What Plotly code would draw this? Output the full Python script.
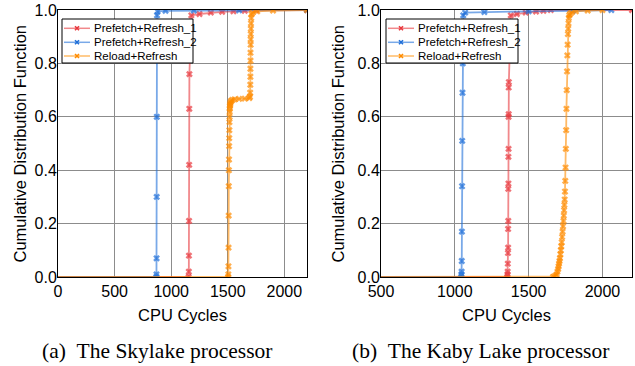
import plotly.graph_objects as go

# ---------------- data ----------------
# (a) Skylake
sky_pr1_x = [0, 1154, 1156, 1157, 1158, 1159, 1160, 1161, 1178, 1250, 1350, 1450, 1550, 1650, 1750, 2200]
sky_pr1_y = [0, 0, 0.02, 0.08, 0.21, 0.42, 0.63, 0.76, 0.98, 0.985, 0.99, 0.993, 0.995, 0.997, 0.999, 1.0]

sky_pr2_x = [0, 869, 870, 871, 872, 873, 875, 880, 950, 1200, 1600, 2200]
sky_pr2_y = [0, 0, 0.01, 0.07, 0.30, 0.60, 0.98, 0.995, 0.997, 0.998, 0.999, 1.0]

sky_rr_x = [0, 1503, 1505, 1506, 1507, 1508, 1509, 1510, 1511, 1512, 1513, 1514, 1515, 1516, 1517, 1518,
            1519, 1520, 1522, 1525, 1530, 1540, 1560, 1600, 1650, 1690, 1696, 1698, 1699, 1700, 1700, 1701,
            1701, 1702, 1702, 1703, 1704, 1705, 1707, 1710, 1720, 1760, 1900, 2200]
sky_rr_y = [0, 0, 0.01, 0.04, 0.11, 0.23, 0.34, 0.40, 0.44, 0.49, 0.52, 0.55, 0.58, 0.60, 0.62, 0.63,
            0.64, 0.645, 0.65, 0.655, 0.66, 0.663, 0.665, 0.667, 0.668, 0.670, 0.675, 0.69, 0.72, 0.75, 0.78, 0.81,
            0.84, 0.87, 0.89, 0.91, 0.93, 0.95, 0.97, 0.985, 0.99, 0.995, 0.998, 1.0]

# (b) Kaby Lake
kaby_pr1_x = [0, 1355, 1357, 1358, 1359, 1360, 1361, 1361, 1362, 1362, 1363, 1363, 1364, 1364, 1365, 1365,
              1366, 1379, 1420, 1480, 1550, 1600, 1650, 2200]
kaby_pr1_y = [0, 0, 0.01, 0.02, 0.05, 0.09, 0.11, 0.18, 0.21, 0.33, 0.35, 0.45, 0.48, 0.60, 0.61, 0.71,
              0.73, 0.98, 0.985, 0.99, 0.994, 0.997, 1.0, 1.0]

kaby_pr2_x = [0, 1043, 1045, 1046, 1047, 1048, 1049, 1050, 1052, 1054, 1057, 1070, 1200, 1500, 1800, 2060]
kaby_pr2_y = [0, 0, 0.01, 0.02, 0.06, 0.17, 0.34, 0.51, 0.69, 0.80, 0.98, 0.99, 0.992, 0.995, 0.997, 1.0]

kaby_rr_x = [0, 1665, 1675, 1685, 1690, 1695, 1700, 1703, 1706, 1709, 1712, 1715, 1718, 1721, 1724, 1727,
             1730, 1733, 1736, 1738, 1740, 1742, 1744, 1746, 1748, 1750, 1752, 1754, 1756, 1758, 1760, 1762,
             1764, 1766, 1768, 1770, 1772, 1775, 1780, 1790, 1820, 1900, 2000]
kaby_rr_y = [0, 0, 0.002, 0.006, 0.01, 0.02, 0.03, 0.04, 0.05, 0.06, 0.07, 0.085, 0.10, 0.115, 0.13, 0.15,
             0.17, 0.19, 0.21, 0.23, 0.25, 0.27, 0.29, 0.32, 0.36, 0.41, 0.48, 0.55, 0.63, 0.70, 0.77, 0.83,
             0.87, 0.91, 0.93, 0.95, 0.97, 0.98, 0.985, 0.99, 0.995, 0.998, 1.0]

series_names = ["Prefetch+Refresh_1", "Prefetch+Refresh_2", "Reload+Refresh"]
y_ticks = [0.0, 0.2, 0.4, 0.6, 0.8, 1.0]
x_ticks_a = [0, 500, 1000, 1500, 2000]
x_ticks_b = [500, 1000, 1500, 2000]
x_title = "CPU Cycles"
y_title = "Cumulative Distribution Function"
captions = ["(a)\u00a0\u00a0The Skylake processor", "(b)\u00a0\u00a0The Kaby Lake processor"]

# ---------------- styling ----------------
marker_colors = ["#e8383d", "#1f6fd8", "#ff8c00"]
line_colors = ["rgba(232,56,61,0.6)", "rgba(31,111,216,0.6)", "rgba(255,140,0,0.6)"]
SANS = "Liberation Sans, Arial, sans-serif"
SERIF = "Liberation Serif, Times New Roman, serif"
W, H = 635, 366

fig = go.Figure()

panels = [
    ([(sky_pr1_x, sky_pr1_y), (sky_pr2_x, sky_pr2_y), (sky_rr_x, sky_rr_y)], "x", "y"),
    ([(kaby_pr1_x, kaby_pr1_y), (kaby_pr2_x, kaby_pr2_y), (kaby_rr_x, kaby_rr_y)], "x2", "y2"),
]
for data, xa, ya in panels:
    for i, (xs, ys) in enumerate(data):
        sizes = [0] + [6] * (len(xs) - 1)
        fig.add_trace(go.Scatter(
            x=xs, y=ys, mode="lines+markers", name=series_names[i],
            xaxis=xa, yaxis=ya, showlegend=False,
            line=dict(color=line_colors[i], width=1.8),
            marker=dict(symbol="x", size=sizes, color=marker_colors[i], line=dict(width=0)),
            cliponaxis=True,
        ))

# ---------------- compact legend boxes (pixel layout) ----------------
def px(x):
    return x / W

def py(y):
    return 1 - y / H

shapes = []
annotations = []
legend_boxes = [(62, 19, 193, 63), (386, 19, 518, 63)]
row_y = [28.3, 42.3, 56.0]
for (x0, y0, x1, y1) in legend_boxes:
    shapes.append(dict(type="rect", xref="paper", yref="paper",
                       x0=px(x0), y0=py(y1), x1=px(x1), y1=py(y0),
                       line=dict(color="black", width=1), fillcolor="white", layer="above"))
    for i, name in enumerate(series_names):
        ly = row_y[i]
        shapes.append(dict(type="line", xref="paper", yref="paper",
                           x0=px(x0 + 2), x1=px(x0 + 28), y0=py(ly), y1=py(ly),
                           line=dict(color=line_colors[i], width=1.5), layer="above"))
        for dx0, dy0, dx1, dy1 in [(-2, -2, 2, 2), (-2, 2, 2, -2)]:
            shapes.append(dict(type="line", xref="paper", yref="paper",
                               x0=px(x0 + 15 + dx0), x1=px(x0 + 15 + dx1),
                               y0=py(ly + dy0), y1=py(ly + dy1),
                               line=dict(color=marker_colors[i], width=1.6), layer="above"))
        annotations.append(dict(text=name, x=px(x0 + 30), y=py(ly), xref="paper", yref="paper",
                                showarrow=False, xanchor="left", yanchor="middle",
                                font=dict(family=SANS, size=11.5, color="black")))

# y-axis titles
for cx in [20, 338]:
    annotations.append(dict(text=y_title, x=px(cx), y=py(143.5), xref="paper", yref="paper",
                            showarrow=False, xanchor="center", yanchor="middle", textangle=-90,
                            font=dict(family=SANS, size=16.5, color="black")))

for k, cx in enumerate([157, 480]):
    annotations.append(dict(text=captions[k], x=px(cx), y=py(351), xref="paper", yref="paper",
                            showarrow=False, xanchor="center", yanchor="middle",
                            font=dict(family=SERIF, size=21.5, color="black")))

axis_common = dict(
    showgrid=True, gridcolor="#8c8c8c", gridwidth=1,
    showline=True, linecolor="black", linewidth=1, mirror=True,
    ticks="", zeroline=False, automargin=False,
    tickfont=dict(family=SANS, size=16, color="black"),
    title_font=dict(family=SANS, size=16.5, color="black"),
)
ydom = [1 - 277 / H, 1 - 10 / H]
fig.update_layout(
    template="none",
    width=W, height=H,
    margin=dict(l=0, r=0, t=0, b=0, pad=0),
    paper_bgcolor="white", plot_bgcolor="white",
    showlegend=False,
    xaxis=dict(domain=[58 / W, 307 / W], range=[0, 2200], tickvals=x_ticks_a,
               title=dict(text=x_title, standoff=10), anchor="y", **axis_common),
    yaxis=dict(domain=ydom, range=[0, 1], tickvals=y_ticks, tickformat=".1f",
               ticklabelstandoff=-3, anchor="x", **axis_common),
    xaxis2=dict(domain=[381 / W, 632 / W], range=[500, 2200], tickvals=x_ticks_b,
                title=dict(text=x_title, standoff=10), anchor="y2", **axis_common),
    yaxis2=dict(domain=ydom, range=[0, 1], tickvals=y_ticks, tickformat=".1f",
                ticklabelstandoff=-3, anchor="x2", **axis_common),
    shapes=shapes,
    annotations=annotations,
)

fig.write_html("out.html",
               config={"displayModeBar": False},
               post_script="document.body.style.margin='0';document.body.style.padding='0';")
